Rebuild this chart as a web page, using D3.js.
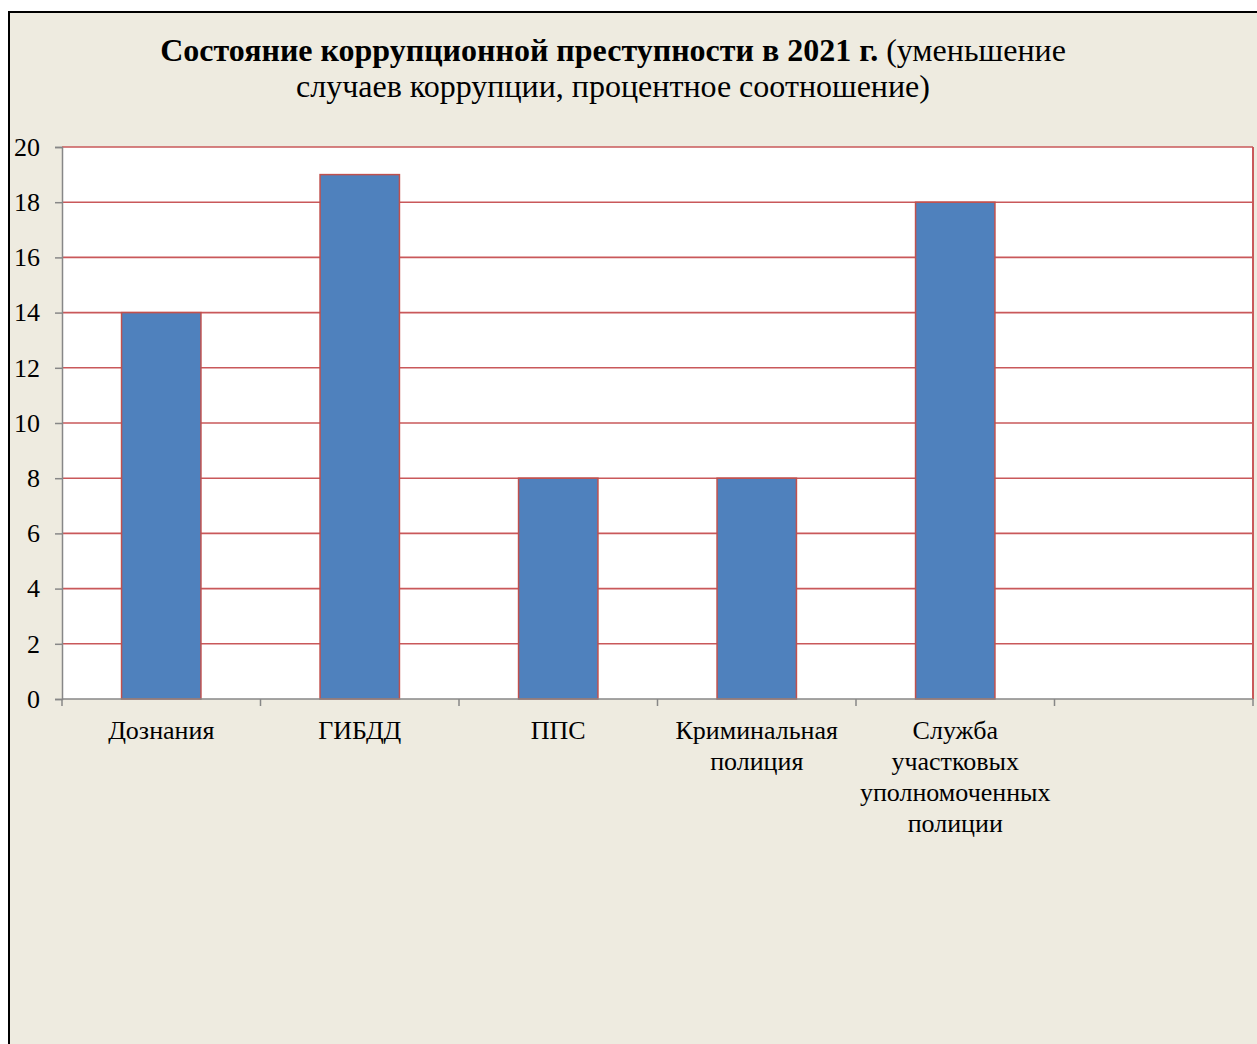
<!DOCTYPE html>
<html>
<head>
<meta charset="utf-8">
<script src="https://cdn.jsdelivr.net/npm/d3@7"></script>
<style>
	body { margin: 0; background: #fff; }
	svg { display: block; font-family: "Liberation Serif", "Times New Roman", serif; }
</style>
</head>
<body>
<svg id="chart"></svg>
<script>
const categories = [ "Дознания", "ГИБДД", "ППС", "Криминальная полиция", "Служба участковых уполномоченных полиции", "" ];
const values = [ 14, 19, 8, 8, 18, null ];
const yTicks = [ 0, 2, 4, 6, 8, 10, 12, 14, 16, 18, 20 ];
const titleBold = "Состояние коррупционной преступности в 2021 г.";
const titleRest1 = " (уменьшение";
const titleLine2 = "случаев коррупции, процентное соотношение)";

const width = 1257;
const height = 1044;
const margin = { top: 147, right: 4, bottom: 345, left: 62 };

const svg = d3.select("#chart")
	.attr("width", width)
	.attr("height", height);

// beige chart area with black frame on top/left
svg.append("rect")
	.attr("x", 9).attr("y", 12)
	.attr("width", width).attr("height", height)
	.attr("fill", "#EEEBE0")
	.attr("stroke", "#000")
	.attr("stroke-width", 2);

const x = d3.scaleBand()
	.domain(d3.range(categories.length))
	.range([ margin.left, width - margin.right ])
	.paddingInner(0)
	.paddingOuter(0);

const y = d3.scaleLinear()
	.domain([ 0, 20 ])
	.range([ height - margin.bottom, margin.top ]);

// plot area
svg.append("rect")
	.attr("x", margin.left).attr("y", margin.top)
	.attr("width", width - margin.right - margin.left)
	.attr("height", y(0) - margin.top)
	.attr("fill", "#fff");

// gridlines
svg.append("g")
	.selectAll("line")
	.data(yTicks.filter((d) => d > 0))
	.enter()
	.append("line")
	.attr("x1", margin.left)
	.attr("x2", width - margin.right)
	.attr("y1", (d) => y(d))
	.attr("y2", (d) => y(d))
	.attr("stroke", "#C9585A")
	.attr("stroke-width", 1.6);

// right border of plot area
svg.append("line")
	.attr("x1", width - margin.right).attr("x2", width - margin.right)
	.attr("y1", margin.top).attr("y2", y(0))
	.attr("stroke", "#C9585A")
	.attr("stroke-width", 2);

// bars
const barW = x.bandwidth() * 0.4;
svg.append("g")
	.selectAll("rect")
	.data(values.map((v, i) => ({ v, i })).filter((d) => d.v !== null))
	.enter()
	.append("rect")
	.attr("x", (d) => x(d.i) + (x.bandwidth() - barW) / 2)
	.attr("y", (d) => y(d.v))
	.attr("width", barW)
	.attr("height", (d) => y(0) - y(d.v))
	.attr("fill", "#4F81BD")
	.attr("stroke", "#C0504D")
	.attr("stroke-width", 1.5);

// y axis
const yAxis = svg.append("g")
	.attr("transform", `translate(${margin.left},0)`)
	.call(d3.axisLeft(y).tickValues(yTicks).tickSize(7).tickPadding(4).tickFormat(d3.format("d")));
yAxis.select(".domain").attr("stroke", "#878787").attr("stroke-width", 1.5);
yAxis.selectAll(".tick line").attr("stroke", "#878787").attr("stroke-width", 1.5);
yAxis.selectAll(".tick text")
	.attr("x", -22)
	.attr("fill", "#000")
	.style("font-size", "26px")
	.style("font-family", "'Liberation Serif', serif");

// x axis (ticks at band boundaries)
const xg = svg.append("g");
xg.append("line")
	.attr("x1", margin.left).attr("x2", width - margin.right)
	.attr("y1", y(0)).attr("y2", y(0))
	.attr("stroke", "#878787").attr("stroke-width", 1.5);
xg.selectAll("line.tick")
	.data(d3.range(categories.length + 1))
	.enter()
	.append("line")
	.attr("class", "tick")
	.attr("x1", (d) => (d < categories.length ? x(d) : width - margin.right))
	.attr("x2", (d) => (d < categories.length ? x(d) : width - margin.right))
	.attr("y1", y(0)).attr("y2", y(0) + 7)
	.attr("stroke", "#878787").attr("stroke-width", 1.5);

// category labels, wrapped
function wrapLines(text, maxW, measure) {
	const words = text.split(" ");
	const lines = [];
	let cur = "";
	for (const w of words) {
		const test = cur ? cur + " " + w : w;
		if (cur && measure(test) > maxW) {
			lines.push(cur);
			cur = w;
		} else {
			cur = test;
		}
	}
	if (cur) lines.push(cur);
	return lines;
}

const measurer = svg.append("text").style("font-size", "26px");
const measure = (s) => { measurer.text(s); return measurer.node().getComputedTextLength(); };

categories.forEach((c, i) => {
	if (!c) return;
	const lines = wrapLines(c, 195, measure);
	const t = svg.append("text")
		.attr("text-anchor", "middle")
		.style("font-size", "26px")
		.attr("fill", "#000");
	lines.forEach((ln, k) => {
		t.append("tspan")
			.attr("x", x(i) + x.bandwidth() / 2)
			.attr("y", 739 + k * 31)
			.text(ln);
	});
});
measurer.remove();

// title
const title = svg.append("text")
	.attr("text-anchor", "middle")
	.style("font-size", "32px")
	.attr("fill", "#000");
const t1 = title.append("tspan").attr("x", 613).attr("y", 61);
t1.append("tspan").attr("font-weight", "bold").text(titleBold);
t1.append("tspan").text(titleRest1);
title.append("tspan").attr("x", 613).attr("y", 97).text(titleLine2);
</script>
</body>
</html>
